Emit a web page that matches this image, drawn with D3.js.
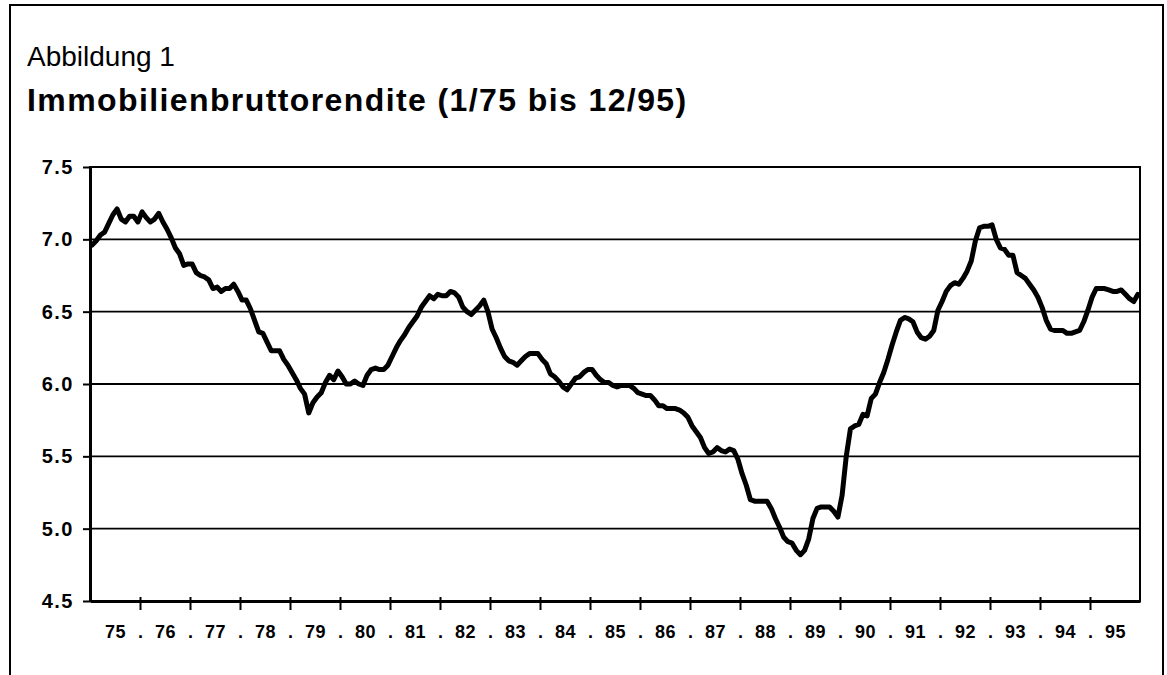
<!DOCTYPE html>
<html>
<head>
	<meta charset="utf-8">
	<title>Abbildung 1</title>
	<script type="text/javascript" src="https://cdn.jsdelivr.net/npm/d3@7"></script>
	<style type="text/css">
		body {
			margin: 0;
			background: #fff;
		}
		.chart text {
			font-family: "Liberation Sans", Arial, sans-serif;
			fill: #000;
		}
		.axis path, .axis line {
			stroke: #000;
		}
		.grid line {
			stroke: #000;
			stroke-width: 1.8;
		}
	</style>
</head>
<body>
	<div id="chart"></div>
	<script type="text/javascript">
		// Immobilienbruttorendite, monatlich 1/75 bis 12/95
		const rendite = [
			6.96, 6.99, 7.03, 7.05, 7.11, 7.17, 7.21, 7.14, 7.12, 7.16, 7.16, 7.12, // 75
			7.19, 7.15, 7.12, 7.14, 7.18, 7.12, 7.07, 7.01, 6.94, 6.90, 6.82, 6.83, // 76
			6.83, 6.77, 6.75, 6.74, 6.72, 6.66, 6.67, 6.64, 6.66, 6.66, 6.69, 6.64, // 77
			6.58, 6.58, 6.52, 6.44, 6.36, 6.35, 6.29, 6.23, 6.23, 6.23, 6.17, 6.13, // 78
			6.08, 6.03, 5.97, 5.93, 5.80, 5.87, 5.91, 5.94, 6.01, 6.06, 6.03, 6.09, // 79
			6.05, 6.00, 6.00, 6.02, 6.00, 5.99, 6.06, 6.10, 6.11, 6.10, 6.10, 6.13, // 80
			6.19, 6.25, 6.30, 6.34, 6.39, 6.43, 6.47, 6.53, 6.57, 6.61, 6.59, 6.62, // 81
			6.61, 6.61, 6.64, 6.63, 6.60, 6.53, 6.50, 6.48, 6.51, 6.54, 6.58, 6.50, // 82
			6.38, 6.32, 6.25, 6.19, 6.16, 6.15, 6.13, 6.16, 6.19, 6.21, 6.21, 6.21, // 83
			6.17, 6.14, 6.07, 6.05, 6.02, 5.98, 5.96, 6.00, 6.04, 6.05, 6.08, 6.10, // 84
			6.10, 6.06, 6.03, 6.01, 6.01, 5.99, 5.98, 5.99, 5.99, 5.99, 5.97, 5.94, // 85
			5.93, 5.92, 5.92, 5.89, 5.85, 5.85, 5.83, 5.83, 5.83, 5.82, 5.80, 5.77, // 86
			5.71, 5.67, 5.63, 5.56, 5.52, 5.53, 5.56, 5.54, 5.53, 5.55, 5.54, 5.48, // 87
			5.38, 5.30, 5.20, 5.19, 5.19, 5.19, 5.19, 5.14, 5.07, 5.01, 4.94, 4.91, // 88
			4.90, 4.85, 4.82, 4.85, 4.93, 5.07, 5.14, 5.15, 5.15, 5.15, 5.12, 5.08, // 89
			5.23, 5.50, 5.69, 5.71, 5.72, 5.79, 5.78, 5.90, 5.93, 6.01, 6.08, 6.17, // 90
			6.27, 6.36, 6.44, 6.46, 6.45, 6.43, 6.36, 6.32, 6.31, 6.33, 6.37, 6.51, // 91
			6.57, 6.64, 6.68, 6.70, 6.69, 6.73, 6.78, 6.85, 6.99, 7.08, 7.09, 7.09, // 92
			7.10, 7.00, 6.94, 6.93, 6.89, 6.89, 6.77, 6.75, 6.73, 6.69, 6.65, 6.60, // 93
			6.53, 6.44, 6.38, 6.37, 6.37, 6.37, 6.35, 6.35, 6.36, 6.37, 6.43, 6.51, // 94
			6.60, 6.66, 6.66, 6.66, 6.65, 6.64, 6.64, 6.65, 6.62, 6.59, 6.57, 6.62  // 95
		];

		const yearLabels = ["75", "76", "77", "78", "79", "80", "81", "82", "83", "84", "85",
			"86", "87", "88", "89", "90", "91", "92", "93", "94", "95"];

		const yTicks = [4.5, 5.0, 5.5, 6.0, 6.5, 7.0, 7.5];

		const width = 1167;
		const height = 675;
		const margin = ({top: 167, right: 27, bottom: 74, left: 90});

		const x = d3.scaleLinear()
			.domain([0, rendite.length])
			.range([margin.left, width - margin.right]);
		const y = d3.scaleLinear()
			.domain([4.5, 7.5])
			.range([height - margin.bottom, margin.top]);

		const svg = d3.select("#chart").append("svg")
			.attr("class", "chart")
			.attr("width", width)
			.attr("height", height);

		// outer frame of the figure
		svg.append("rect")
			.attr("x", 10)
			.attr("y", 5)
			.attr("width", 1153)
			.attr("height", 720)
			.attr("fill", "none")
			.attr("stroke", "#000")
			.attr("stroke-width", 2);

		svg.append("text")
			.attr("x", 27)
			.attr("y", 66)
			.attr("font-size", "28px")
			.text("Abbildung 1");

		svg.append("text")
			.attr("x", 27)
			.attr("y", 111)
			.attr("font-size", "32px")
			.attr("font-weight", "bold")
			.attr("letter-spacing", "1.4px")
			.text("Immobilienbruttorendite (1/75 bis 12/95)");

		// horizontal grid lines
		svg.append("g")
			.attr("class", "grid")
			.selectAll("line")
			.data(yTicks.slice(1, -1))
			.join("line")
				.attr("x1", x(0))
				.attr("x2", x(rendite.length))
				.attr("y1", d => y(d))
				.attr("y2", d => y(d));

		// plot frame
		svg.append("rect")
			.attr("x", x(0))
			.attr("y", y(7.5))
			.attr("width", x(rendite.length) - x(0))
			.attr("height", y(4.5) - y(7.5))
			.attr("fill", "none")
			.attr("stroke", "#000")
			.attr("stroke-width", 2);

		// y axis
		svg.append("g")
			.attr("class", "y axis")
			.attr("transform", `translate(${margin.left},0)`)
			.call(d3.axisLeft(y).tickValues(yTicks).tickFormat(d3.format(".1f")).tickSize(7).tickPadding(9).tickSizeOuter(0))
			.call(g => g.select(".domain").attr("stroke-width", 3))
			.call(g => g.selectAll(".tick line").attr("stroke-width", 2))
			.call(g => g.selectAll(".tick text")
				.attr("font-size", "20px")
				.attr("font-weight", "bold")
				.attr("letter-spacing", "1.5px"));

		// x axis: year boundaries with ticks and dots
		const boundaries = d3.range(12, rendite.length, 12);
		const centers = d3.range(6, rendite.length, 12);

		svg.append("g")
			.attr("class", "x axis")
			.attr("transform", `translate(0,${height - margin.bottom})`)
			.call(d3.axisBottom(x).tickValues(boundaries).tickFormat(() => ".").tickSize(9).tickPadding(15).tickSizeOuter(0))
			.call(g => g.select(".domain").attr("stroke-width", 3))
			.call(g => g.selectAll(".tick line").attr("y1", -4).attr("stroke-width", 2))
			.call(g => g.selectAll(".tick text")
				.attr("font-size", "18px")
				.attr("font-weight", "bold"));

		svg.append("g")
			.attr("class", "x labels")
			.attr("transform", `translate(0,${height - margin.bottom})`)
			.call(d3.axisBottom(x).tickValues(centers).tickFormat((d, i) => yearLabels[i]).tickSize(0).tickPadding(24))
			.call(g => g.select(".domain").remove())
			.call(g => g.selectAll(".tick text")
				.attr("font-size", "18px")
				.attr("font-weight", "bold")
				.attr("letter-spacing", "0.5px"));

		const line = d3.line()
			.x((d, i) => x(i + 0.5))
			.y(d => y(d));

		svg.append("path")
			.datum(rendite)
			.attr("d", line)
			.attr("fill", "none")
			.attr("stroke", "#000")
			.attr("stroke-width", 5)
			.attr("stroke-linejoin", "round")
			.attr("stroke-linecap", "round");
	</script>
</body>
</html>
